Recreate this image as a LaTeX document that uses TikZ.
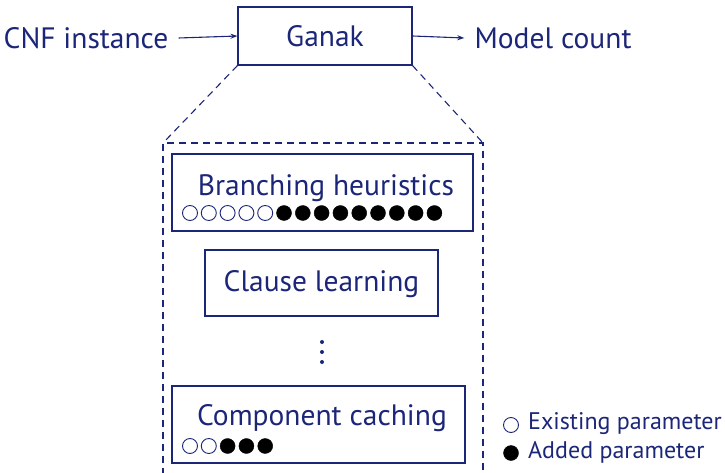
\documentclass[tikz,border=0pt]{standalone}
\usepackage{fontspec}
\setmainfont{PT Sans}
\usetikzlibrary{positioning,arrows.meta}
\definecolor{navy}{RGB}{28,38,120}

\tikzset{
  box/.style={draw=navy, line width=1.1pt, inner sep=0pt},
  lbl/.style={text=navy, font=\fontsize{29.5}{34}\selectfont, inner sep=0pt},
  leg/.style={text=navy, font=\fontsize{24}{28}\selectfont, inner sep=0pt, anchor=west},
  flow/.style={draw=navy, line width=1.1pt, -{Stealth[length=7pt,width=5pt]}},
  zoomline/.style={draw=navy, line width=1.1pt, dash pattern=on 7pt off 5pt},
  oldpar/.style={draw=navy, fill=white, line width=0.9pt},
  newpar/.style={draw=black, fill=black},
}

\begin{document}
\begin{tikzpicture}[x=1pt, y=-1pt]
  \useasboundingbox (0,0) rectangle (725,473);

  % top row
  \node[box, minimum width=174pt, minimum height=58pt] (ganak) at (325,36) {};
  \node[lbl] (ganaktxt) at (ganak.center) {Ganak};
  \node[lbl] (cnf) at (86,38) {CNF instance};
  \node[lbl] (count) at (553,38) {Model count};
  \draw[flow] (cnf.east) ++(10pt,0) coordinate (cnfout) -- (ganak.west);
  \draw[flow] (ganak.east) -- ([xshift=-10pt]count.west);

  % zoomed part
  \coordinate (zl) at (163,143);
  \coordinate (zr) at (483,143);
  \coordinate (zlb) at (163,475);
  \coordinate (zrb) at (483,475);
  \draw[zoomline] (ganak.south west) -- (zl);
  \draw[zoomline] (ganak.south east) -- (zr);
  \draw[zoomline] (zlb) -- (zl) -- (zr) -- (zrb);

  \node[box, minimum width=301pt, minimum height=77pt] (branch) at (322.5,192.5) {};
  \node[lbl] (branchtxt) at (326,188) {Branching heuristics};
  \node[box, minimum width=233pt, minimum height=66pt] (clause) at (321.5,283) {};
  \node[lbl] (clausetxt) at (321.5,284) {Clause learning};
  \node[box, minimum width=293pt, minimum height=77pt] (cache) at (318.5,424.5) {};
  \node[lbl] (cachetxt) at (322,418) {Component caching};

  % vertical dots
  \foreach \y in {342,352,362}
    \fill[navy] (322,\y) circle (2);

  % parameters
  \foreach \i in {0,...,4}
    \draw[oldpar] (190+18.8*\i,213) circle (7.5);
  \foreach \i in {5,...,13}
    \draw[newpar] (190+18.8*\i,213) circle (7.5);
  \foreach \i in {0,1}
    \draw[oldpar] (190+18.8*\i,446) circle (7.5);
  \foreach \i in {2,3,4}
    \draw[newpar] (190+18.8*\i,446) circle (7.5);

  % legend
  \draw[oldpar] (511,425) circle (7.5);
  \node[leg] (legold) at (528,424) {Existing parameter};
  \draw[newpar] (511,453) circle (7.5);
  \node[leg] (legnew) at (528,452) {Added parameter};
\end{tikzpicture}
\end{document}
